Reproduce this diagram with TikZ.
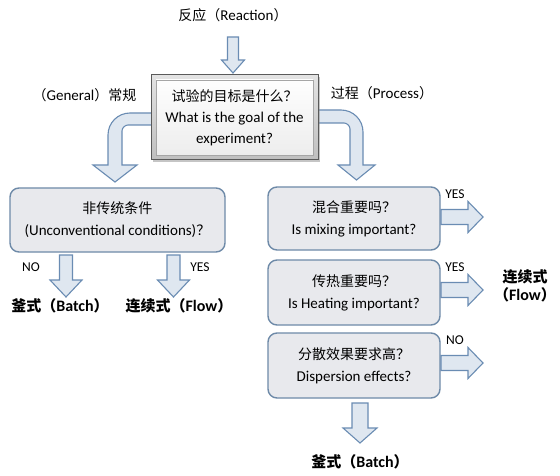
\documentclass[tikz,border=0pt]{standalone}
\usepackage{fontspec}
\setmainfont{Carlito}
\newfontfamily\cjk{Noto Sans CJK SC}
\usetikzlibrary{shadows}
\newcommand\zh[1]{{\cjk\fontsize{14}{21}\selectfont #1}}
\newcommand\zhb[1]{{\cjk\bfseries\fontsize{15}{18}\selectfont #1}}
\definecolor{arrowfill}{HTML}{DFE7F0}
\definecolor{arrowline}{HTML}{6A8CB3}
\definecolor{boxfill}{HTML}{E8E9ED}
\definecolor{boxline}{HTML}{6E8AA8}
\definecolor{frameline}{HTML}{5A5A5A}
\newcommand\dnarrow[6]{\path[blockarrow] (#1-#5,#2) -- (#1+#5,#2) -- (#1+#5,#3) -- (#1+#6,#3) -- (#1,#4) -- (#1-#6,#3) -- (#1-#5,#3) -- cycle;}
\newcommand\rtarrow[6]{\path[blockarrow] (#2,#1-#5) -- (#3,#1-#5) -- (#3,#1-#6) -- (#4,#1) -- (#3,#1+#6) -- (#3,#1+#5) -- (#2,#1+#5) -- cycle;}
\begin{document}
\begin{tikzpicture}[x=1pt,y=-1pt,
  blockarrow/.style={fill=arrowfill, draw=arrowline, line width=1.1pt, line join=miter},
  decision/.style={draw=boxline, fill=boxfill, line width=1.4pt, rounded corners=9pt,
    align=center, inner sep=0pt, font=\fontsize{15}{22}\selectfont},
  mainbox/.style={draw=frameline, line width=1pt, top color=gray!22, bottom color=gray!50,
    minimum width=167pt, minimum height=85pt, inner sep=0pt, align=center,
    font=\fontsize{15}{21}\selectfont,
    drop shadow={shadow xshift=2pt, shadow yshift=-2pt, opacity=.45},
    path picture={\path[draw=gray!70, line width=.6pt, top color=white, bottom color=gray!15]
      ([shift={(5pt,-5pt)}]path picture bounding box.north west) rectangle
      ([shift={(-5pt,5pt)}]path picture bounding box.south east);}},
  txt/.style={inner sep=0pt, font=\fontsize{15}{18}\selectfont},
  yn/.style={inner sep=0pt, font=\fontsize{13.5}{16}\selectfont},
  outc/.style={inner sep=0pt, align=center, font=\bfseries\fontsize{16}{18}\selectfont}]
\useasboundingbox[fill=white] (0,0) rectangle (560,476);

% top label and arrow
\node[txt] (reaction) at (233,15) {\zh{反应（}Reaction\zh{）}};
\dnarrow{233}{37}{60}{73}{5.5}{11.5}

% curved arrows (drawn under the main box)
\path[blockarrow] (155,113) -- (130,113) .. controls (117.85,113) and (108,122.85) .. (108,135)
  -- (108,165) -- (93,165) -- (115,182) -- (137,165) -- (122,165) -- (122,131)
  .. controls (122,127.7) and (125.3,125) .. (128,125) -- (155,125) -- cycle;
\path[blockarrow] (314,110) -- (341,110) .. controls (353.15,110) and (363,119.85) .. (363,132)
  -- (363,165) -- (375,165) -- (356.5,180) -- (338,165) -- (350,165) -- (350,129)
  .. controls (350,125.7) and (346.7,123) .. (344,123) -- (314,123) -- cycle;

% main question
\node[mainbox] (goal) at (234.5,117.5) {\zh{试验的目标是什么？}\\What is the goal of the\\experiment?};
\node[txt] (general) at (84.5,95) {\zh{（}General\zh{）常规}};
\node[txt] (process) at (382,93) {\zh{过程（}Process\zh{）}};

% left branch
\node[decision, minimum width=215pt, minimum height=64pt] (uncon) at (117.5,220)
  {\zh{非传统条件}\\(Unconventional conditions)\zh{？}};
\dnarrow{66}{255}{280}{297}{6.5}{16}
\dnarrow{173.5}{255}{280}{297}{6.5}{16}
\node[yn] (no1) at (31,267) {NO};
\node[yn] (yes1) at (200,267) {YES};
\node[outc] (batchL) at (60,306) {\zhb{釜式（}Batch\zhb{）}};
\node[outc] (flowL) at (179,306) {\zhb{连续式（}Flow\zhb{）}};

% right branch
\node[decision, minimum width=172pt, minimum height=63pt] (mix) at (354,218.5)
  {\zh{混合重要吗？}\\Is mixing important?};
\node[decision, minimum width=172pt, minimum height=65pt] (heat) at (354,292.5)
  {\zh{传热重要吗？}\\Is Heating important?};
\node[decision, minimum width=172pt, minimum height=65pt] (disp) at (354,365.5)
  {\zh{分散效果要求高？}\\Dispersion effects?};
\rtarrow{217}{441}{468}{483}{7.5}{15.5}
\rtarrow{290}{441}{468}{483}{7.5}{15.5}
\rtarrow{363}{441}{468}{483}{7.5}{15.5}
\node[yn] (yesA) at (455,194) {YES};
\node[yn] (yesB) at (455,267) {YES};
\node[yn] (noC) at (455,340) {NO};
\node[outc] (flowR) at (525,286) {\zhb{连续式}\\\zhb{（}Flow\zhb{）}};
\dnarrow{360}{403}{428}{443}{8}{17}
\node[outc] (batchB) at (360,462) {\zhb{釜式（}Batch\zhb{）}};
\end{tikzpicture}
\end{document}
